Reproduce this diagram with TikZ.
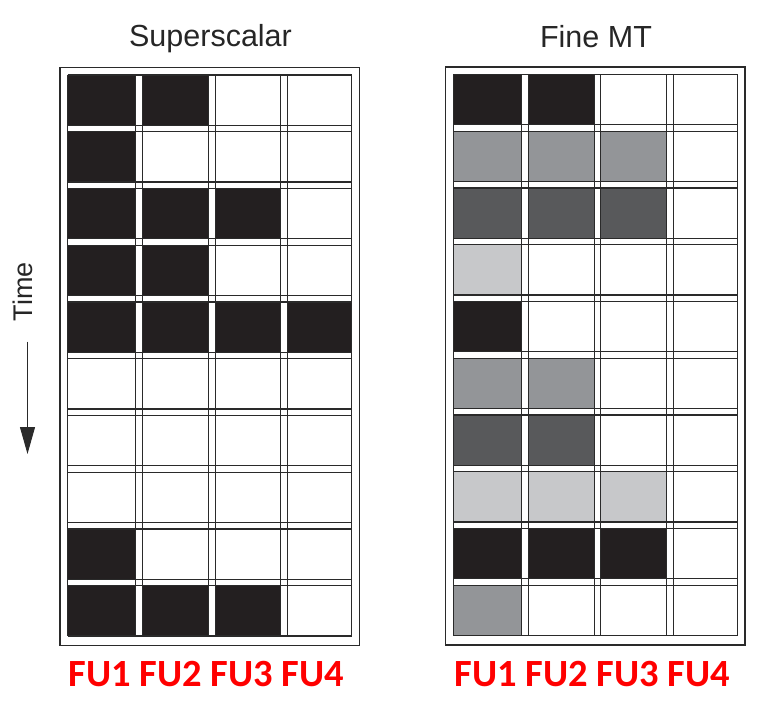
\documentclass[tikz,border=0pt]{standalone}
\usepackage{fontspec}
\setmainfont{Liberation Sans}
\newfontfamily\fufont{Carlito}
\usetikzlibrary{arrows.meta}
\definecolor{cB}{HTML}{231F20}
\definecolor{cM}{HTML}{939598}
\definecolor{cD}{HTML}{58595B}
\definecolor{cL}{HTML}{C7C8CA}
\definecolor{cW}{HTML}{FFFFFF}
\definecolor{cLine}{HTML}{2A2A2A}
\definecolor{fured}{HTML}{FF0000}
\newcommand\drawgridpanel[3]{%
\begin{scope}[shift={(#1,#2)}]
  \draw[panelframe] (-7.6,-7.6) rectangle (291.6,570.5);
  \foreach \rowlist [count=\ri from 0] in {#3} {
    \foreach \cellc [count=\ki from 0] in \rowlist {
      \pgfmathsetmacro\xa{{0,74.8,147.6,220}[\ki]}
      \pgfmathsetmacro\xb{{68,141,213.2,284.2}[\ki]}
      \pgfmathsetmacro\ya{\ri*56.75}
      \pgfmathsetmacro\yb{\ri*56.75+50.25}
      \fill[c\cellc] (\xa,\ya) rectangle (\xb,\yb);
    }
  }
  \foreach \xx in {0,68,74.8,141,147.6,213.2,220,284.2}
    \draw[gridline] (\xx,0) -- (\xx,561);
  \foreach \ri in {0,...,9} {
    \draw[gridline] (0,\ri*56.75) -- (284.2,\ri*56.75);
    \draw[gridline] (0,\ri*56.75+50.25) -- (284.2,\ri*56.75+50.25);
  }
\end{scope}}
\begin{document}
\begin{tikzpicture}[x=1pt,y=-1pt,
  gridline/.style={line width=1.1pt, draw=cLine},
  panelframe/.style={line width=1.3pt, draw=cLine},
  title/.style={font=\fontsize{30.5}{36}\selectfont, text=black!85, anchor=base, inner sep=0pt},
  fulabel/.style={font=\fufont\bfseries\fontsize{38.5}{46}\selectfont, text=fured, anchor=base, inner sep=0pt}]
\useasboundingbox (0,0) rectangle (770,707);
\drawgridpanel{67.7}{75}{{B,B,W,W},{B,W,W,W},{B,B,B,W},{B,B,W,W},{B,B,B,B},{W,W,W,W},{W,W,W,W},{W,W,W,W},{B,W,W,W},{B,B,B,W}}
\drawgridpanel{453.3}{74.5}{{B,B,W,W},{M,M,M,W},{D,D,D,W},{L,W,W,W},{B,W,W,W},{M,M,W,W},{D,D,W,W},{L,L,L,W},{B,B,B,W},{M,W,W,W}}
\node[title] (ttlA) at (210.5,46.8) {Superscalar};
\node[title] (ttlB) at (596,47.3) {Fine MT};
\node[fulabel] (fuA) at (206.5,686.5) {FU1 FU2 FU3 FU4};
\node[fulabel] (fuB) at (592.5,686.5) {FU1 FU2 FU3 FU4};
\node[font=\fontsize{27}{32}\selectfont, text=black!85, rotate=90, anchor=base, inner sep=0pt] (timelbl) at (32.5,291.7) {Time};
\coordinate (arrS) at (27.5,341.7);
\coordinate (arrE) at (27.5,454);
\draw[line width=1pt, draw=cLine, -{Triangle[length=27pt,width=15pt]}] (arrS) -- (arrE);
\end{tikzpicture}
\end{document}
